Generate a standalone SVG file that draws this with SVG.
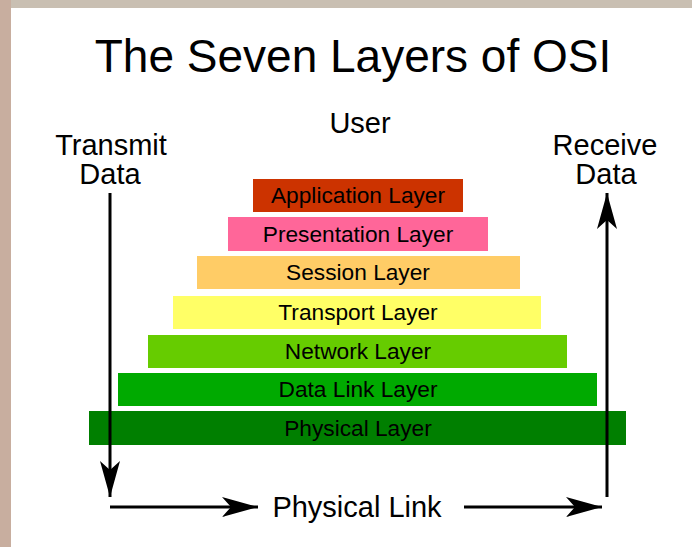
<svg xmlns="http://www.w3.org/2000/svg" width="692" height="547" viewBox="0 0 692 547">
<defs>
<style>
text{font-family:"Liberation Sans",Arial,sans-serif;fill:#000}
.big{font-size:29px;text-anchor:middle}
.lbl{font-size:22.7px;text-anchor:middle}
.ln{stroke:#000;stroke-width:3;fill:none}
</style>
<marker id="ah" viewBox="0 0 36 20" refX="36" refY="10" markerWidth="36" markerHeight="20" markerUnits="userSpaceOnUse" orient="auto">
<path d="M0,0 L36,10 L0,20 L9,10 Z" fill="#000"/>
</marker>
</defs>
<rect x="0" y="0" width="692" height="547" fill="#c9bfb2"/>
<rect x="0" y="0" width="11" height="547" fill="#c8ae9f"/>
<rect x="11" y="8" width="681" height="539" fill="#fff"/>
<text x="353" y="72" style="font-size:46px;text-anchor:middle">The Seven Layers of OSI</text>
<text class="big" x="360" y="133">User</text>
<text class="big" x="111" y="155">Transmit</text>
<text class="big" x="110" y="184">Data</text>
<text class="big" x="605" y="155">Receive</text>
<text class="big" x="606" y="184">Data</text>
<g id="application"><rect x="253" y="179" width="210" height="33" fill="#cc3300"/><text class="lbl" x="358" y="203">Application Layer</text></g>
<g id="presentation"><rect x="228" y="217" width="260" height="34" fill="#ff6699"/><text class="lbl" x="358" y="242">Presentation Layer</text></g>
<g id="session"><rect x="197" y="256" width="323" height="33" fill="#ffcc66"/><text class="lbl" x="358" y="280">Session Layer</text></g>
<g id="transport"><rect x="173" y="296" width="368" height="33" fill="#ffff66"/><text class="lbl" x="358" y="320">Transport Layer</text></g>
<g id="network"><rect x="148" y="335" width="419" height="33" fill="#66cc00"/><text class="lbl" x="358" y="359">Network Layer</text></g>
<g id="datalink"><rect x="118" y="373" width="479" height="33" fill="#00aa00"/><text class="lbl" x="358" y="397">Data Link Layer</text></g>
<g id="physical"><rect x="89" y="411" width="537" height="34" fill="#007f00"/><text class="lbl" x="358" y="436">Physical Layer</text></g>
<text class="big" x="357" y="517">Physical Link</text>
<g id="connectors">
<line class="ln" x1="110" y1="193" x2="110" y2="497" marker-end="url(#ah)"/>
<line class="ln" x1="110" y1="507" x2="258" y2="507" marker-end="url(#ah)"/>
<line class="ln" x1="464" y1="507" x2="602" y2="507" marker-end="url(#ah)"/>
<line class="ln" x1="607" y1="497" x2="607" y2="193" marker-end="url(#ah)"/>
</g>
</svg>
